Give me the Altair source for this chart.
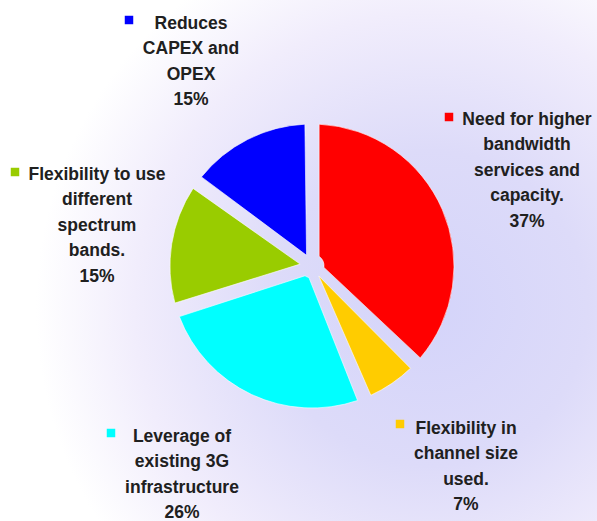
import altair as alt
import pandas as pd

# ---- data ----
categories = [
    "Need for higher bandwidth services and capacity.",
    "Flexibility in channel size used.",
    "Leverage of existing 3G infrastructure",
    "Flexibility to use different spectrum bands.",
    "Reduces CAPEX and OPEX",
]
label_lines = [
    ["Need for higher", "bandwidth", "services and", "capacity."],
    ["Flexibility in", "channel size", "used."],
    ["Leverage of", "existing 3G", "infrastructure"],
    ["Flexibility to use", "different", "spectrum", "bands."],
    ["Reduces", "CAPEX and", "OPEX"],
]
shares = [37, 7, 26, 15, 15]
colors = ["#ff0000", "#ffcc00", "#00ffff", "#99cc00", "#0000ff"]

# ---- layout (pixels) ----
W, H = 597, 521
CX, CY, R = 312, 266, 142
label_x = [527, 466, 182, 97, 191]
label_y = [124.5, 433.5, 441.5, 179.5, 28.5]
marker_x = [449, 400, 111, 15, 129]
marker_y = [117, 424, 433, 172, 20]

df = pd.DataFrame({
    "category": categories,
    "share": shares,
    "idx": list(range(len(categories))),
})

labels = pd.DataFrame({
    "category": categories,
    "label": ["\n".join(lines + [f"{s}%"]) for lines, s in zip(label_lines, shares)],
    "lx": label_x,
    "ly": label_y,
    "mx": marker_x,
    "my": marker_y,
})

color_scale = alt.Scale(domain=categories, range=colors)

background = alt.Chart(pd.DataFrame({"a": [0]})).mark_rect(
    fill={
        "gradient": "radial",
        "x1": 0.72, "y1": 0.58, "r1": 0.0,
        "x2": 0.72, "y2": 0.58, "r2": 0.66,
        "stops": [
            {"offset": 0.0, "color": "#d4d4fa"},
            {"offset": 0.4, "color": "#dddbf9"},
            {"offset": 0.75, "color": "#f1edfc"},
            {"offset": 1.0, "color": "#ffffff"},
        ],
    },
    strokeWidth=0,
).encode(
    x=alt.value(0), x2=alt.value(W), y=alt.value(0), y2=alt.value(H)
)

pie = alt.Chart(df).mark_arc(
    outerRadius=R, innerRadius=12, padAngle=0.1,
    stroke="#ffffff", strokeWidth=1, strokeOpacity=0.6,
).encode(
    theta=alt.Theta("share:Q", stack=True),
    order=alt.Order("idx:Q"),
    color=alt.Color("category:N", scale=color_scale, legend=None),
    x=alt.value(CX),
    y=alt.value(CY),
)

markers = alt.Chart(labels).mark_square(size=72, opacity=1).encode(
    x=alt.X("mx:Q", scale=None, axis=None),
    y=alt.Y("my:Q", scale=None, axis=None),
    color=alt.Color("category:N", scale=color_scale, legend=None),
)

text = alt.Chart(labels).mark_text(
    lineBreak="\n", align="center", baseline="alphabetic", lineHeight=25.5,
    font="Liberation Sans, Arial, sans-serif", fontSize=17.5, fontWeight="bold",
    color="#202020",
).encode(
    x=alt.X("lx:Q", scale=None, axis=None),
    y=alt.Y("ly:Q", scale=None, axis=None),
    text="label:N",
)

chart = alt.layer(background, pie, markers, text).properties(
    width=W, height=H, padding=0, autosize=alt.AutoSizeParams(type="none")
).configure_view(stroke=None)

chart.save("out.html", embed_options={"renderer": "svg", "actions": False})
